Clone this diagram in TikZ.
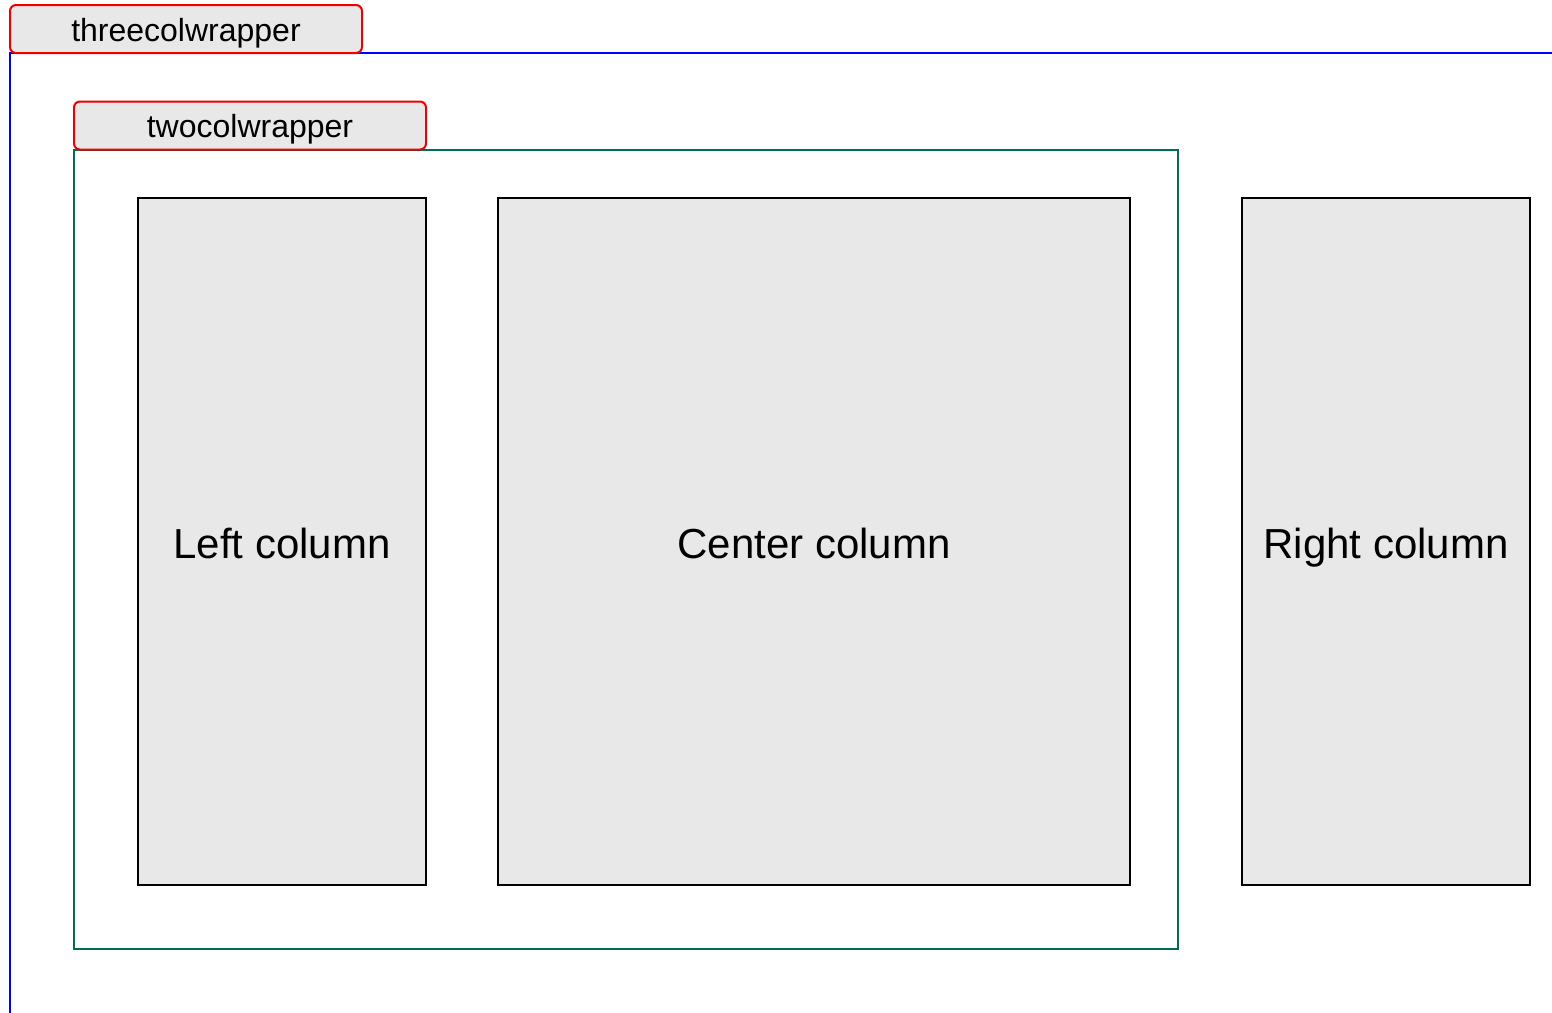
\documentclass[tikz,border=0pt]{standalone}
\usepackage{fontspec}
\setmainfont{Liberation Sans}
\definecolor{boxgray}{HTML}{E8E8E8}
\definecolor{framegreen}{RGB}{0,110,80}
\definecolor{tabred}{RGB}{240,0,0}
\tikzset{
  colbox/.style={draw=black, fill=boxgray, line width=2pt, inner sep=0pt, outer sep=0pt, font=\fontsize{42}{48}\selectfont, text height=40pt, text depth=7pt},
  tabbox/.style={draw=tabred, fill=boxgray, line width=2pt, rounded corners=6pt, inner sep=0pt, outer sep=0pt, minimum width=352pt, minimum height=48pt, font=\fontsize{32}{38}\selectfont, text height=29pt, text depth=5pt},
  greenframe/.style={draw=framegreen, line width=2pt, inner sep=0pt, outer sep=0pt},
}
\begin{document}
\begin{tikzpicture}[x=1pt, y=-1pt]
\useasboundingbox (0,0) rectangle (1552,1012);
% threecolwrapper frame
\coordinate (tl) at (10,53);
\coordinate (bl) at (10,1013);
\coordinate (tr) at (1553,53);
\draw[blue, line width=2pt] (bl) -- (tl) -- (tr);
\node[tabbox] (threetab) at (186,29) {threecolwrapper};
% twocolwrapper frame
\node[greenframe, minimum width=1104pt, minimum height=799pt] (twocol) at (626,549.5) {};
\node[tabbox] (twotab) at (250,125.5) {twocolwrapper};
% columns
\node[colbox, minimum width=288pt, minimum height=687pt] (left) at (282,541.5) {Left column};
\node[colbox, minimum width=632pt, minimum height=687pt] (center) at (814,541.5) {Center column};
\node[colbox, minimum width=288pt, minimum height=687pt] (right) at (1386,541.5) {Right column};
\end{tikzpicture}
\end{document}
